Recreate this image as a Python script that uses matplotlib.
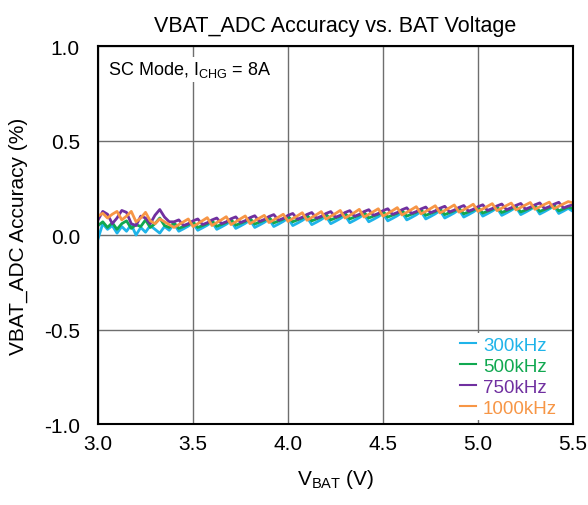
import numpy as np
import matplotlib
matplotlib.use("Agg")
import matplotlib.pyplot as plt

plt.rcParams['font.family'] = ['Liberation Sans', 'DejaVu Sans']
plt.rcParams['mathtext.fontset'] = 'custom'
plt.rcParams['mathtext.rm'] = 'Liberation Sans'
plt.rcParams['mathtext.it'] = 'Liberation Sans'

# battery voltage, 25 mV steps from 3.0 V to 5.5 V
vbat = np.linspace(3.0, 5.5, 101)

acc_300k = [-0.020, 0.060, 0.030, 0.050, 0.010, 0.045, 0.020, 0.055, 0.000, 0.040, 0.015, 0.050, 0.030, 0.010, 0.045, 0.025,
            0.060, 0.020, 0.033, 0.047, 0.065, 0.025, 0.038, 0.052, 0.070, 0.030, 0.043, 0.057, 0.075, 0.035, 0.048, 0.062,
            0.080, 0.040, 0.053, 0.067, 0.085, 0.045, 0.058, 0.072, 0.090, 0.050, 0.063, 0.077, 0.095, 0.055, 0.068, 0.082,
            0.100, 0.060, 0.073, 0.087, 0.105, 0.065, 0.078, 0.092, 0.110, 0.070, 0.083, 0.097, 0.115, 0.075, 0.088, 0.102,
            0.120, 0.080, 0.093, 0.107, 0.125, 0.085, 0.098, 0.112, 0.130, 0.090, 0.103, 0.117, 0.135, 0.095, 0.108, 0.122,
            0.140, 0.100, 0.113, 0.127, 0.144, 0.104, 0.117, 0.131, 0.148, 0.108, 0.121, 0.135, 0.151, 0.111, 0.124, 0.138,
            0.154, 0.114, 0.127, 0.141, 0.125]

acc_500k = [0.050, 0.070, 0.040, 0.065, 0.030, 0.060, 0.075, 0.035, 0.055, 0.045, 0.080, 0.040, 0.060, 0.090, 0.050, 0.040,
            0.065, 0.035, 0.045, 0.055, 0.070, 0.040, 0.050, 0.060, 0.076, 0.046, 0.056, 0.066, 0.082, 0.052, 0.062, 0.072,
            0.088, 0.058, 0.068, 0.078, 0.094, 0.064, 0.074, 0.084, 0.100, 0.070, 0.080, 0.090, 0.105, 0.075, 0.085, 0.095,
            0.110, 0.080, 0.090, 0.100, 0.115, 0.085, 0.095, 0.105, 0.120, 0.090, 0.100, 0.110, 0.125, 0.095, 0.105, 0.115,
            0.130, 0.100, 0.110, 0.120, 0.134, 0.104, 0.114, 0.124, 0.138, 0.108, 0.118, 0.128, 0.142, 0.112, 0.122, 0.132,
            0.146, 0.116, 0.126, 0.136, 0.149, 0.119, 0.129, 0.139, 0.152, 0.122, 0.132, 0.142, 0.155, 0.125, 0.135, 0.145,
            0.158, 0.128, 0.138, 0.148, 0.140]

acc_750k = [0.080, 0.125, 0.110, 0.060, 0.090, 0.130, 0.120, 0.060, 0.050, 0.100, 0.090, 0.060, 0.105, 0.135, 0.095, 0.070,
            0.070, 0.080, 0.050, 0.060, 0.075, 0.085, 0.055, 0.065, 0.080, 0.090, 0.060, 0.070, 0.086, 0.096, 0.066, 0.076,
            0.092, 0.102, 0.072, 0.082, 0.098, 0.108, 0.078, 0.088, 0.104, 0.114, 0.084, 0.094, 0.109, 0.119, 0.089, 0.099,
            0.114, 0.124, 0.094, 0.104, 0.119, 0.129, 0.099, 0.109, 0.124, 0.134, 0.104, 0.114, 0.129, 0.139, 0.109, 0.119,
            0.134, 0.144, 0.114, 0.124, 0.138, 0.148, 0.118, 0.128, 0.142, 0.152, 0.122, 0.132, 0.146, 0.156, 0.126, 0.136,
            0.150, 0.160, 0.130, 0.140, 0.154, 0.164, 0.134, 0.144, 0.157, 0.167, 0.137, 0.147, 0.160, 0.170, 0.140, 0.150,
            0.163, 0.173, 0.143, 0.153, 0.160]

acc_1000k = [0.100, 0.115, 0.090, 0.110, 0.125, 0.080, 0.100, 0.125, 0.070, 0.090, 0.120, 0.075, 0.060, 0.085, 0.070, 0.055,
             0.040, 0.055, 0.070, 0.085, 0.045, 0.060, 0.076, 0.092, 0.050, 0.066, 0.081, 0.097, 0.055, 0.070, 0.086, 0.101,
             0.060, 0.075, 0.090, 0.104, 0.066, 0.080, 0.095, 0.110, 0.072, 0.087, 0.102, 0.118, 0.078, 0.093, 0.108, 0.124,
             0.084, 0.099, 0.114, 0.130, 0.090, 0.104, 0.119, 0.136, 0.095, 0.109, 0.124, 0.139, 0.100, 0.114, 0.129, 0.145,
             0.106, 0.120, 0.135, 0.150, 0.112, 0.125, 0.140, 0.155, 0.117, 0.130, 0.144, 0.159, 0.121, 0.134, 0.148, 0.163,
             0.125, 0.138, 0.152, 0.166, 0.129, 0.142, 0.156, 0.169, 0.133, 0.146, 0.159, 0.172, 0.136, 0.149, 0.162, 0.174,
             0.139, 0.152, 0.165, 0.177, 0.170]

series = [("300kHz", acc_300k, "#1fb4e9"),
          ("500kHz", acc_500k, "#10a850"),
          ("750kHz", acc_750k, "#7030a0"),
          ("1000kHz", acc_1000k, "#f79646")]

x_ticks = [3.0, 3.5, 4.0, 4.5, 5.0, 5.5]
y_ticks = [-1.0, -0.5, 0.0, 0.5, 1.0]

fig = plt.figure(figsize=(5.88, 5.06), dpi=100)
ax = fig.add_axes([0.1667, 0.160, 0.8078, 0.7471])

for name, vals, col in series:
    ax.plot(vbat, vals, color=col, lw=2.0, label=name)

ax.set_xlim(3.0, 5.5)
ax.set_ylim(-1.0, 1.0)
ax.set_xticks(x_ticks)
ax.set_yticks(y_ticks)
ax.set_xticklabels(["%.1f" % v for v in x_ticks])
ax.set_yticklabels(["%.1f" % v for v in y_ticks])
ax.tick_params(length=0, labelsize=15)
ax.tick_params(axis="x", pad=7)
ax.tick_params(axis="y", pad=13)
ax.grid(True, color="#6e6e6e", lw=1)
ax.set_axisbelow(True)
for sp in ax.spines.values():
    sp.set_color("black")
    sp.set_linewidth(1.5)

ax.set_title("VBAT_ADC Accuracy vs. BAT Voltage", fontsize=15.5, pad=11)
ax.set_ylabel("VBAT_ADC Accuracy (%)", fontsize=15)
ax.yaxis.set_label_coords(-0.147, 0.5)
ax.set_xlabel(r"V$_{\mathrm{BAT}}$ (V)", fontsize=15, labelpad=10)

ax.text(0.02, 0.965, r"SC Mode, I$_{\mathrm{CHG}}$ = 8A", transform=ax.transAxes,
        fontsize=13, va="top", ha="left",
        bbox=dict(facecolor="white", edgecolor="none", pad=2))

leg = ax.legend(loc="lower right", frameon=True, fontsize=13.5, handlelength=0.9,
                handletextpad=0.35, labelspacing=0.2, borderaxespad=0.2,
                borderpad=0.2, bbox_to_anchor=(0.982, 0.0))
leg.get_frame().set_edgecolor("none")
leg.get_frame().set_facecolor("white")
leg.get_frame().set_alpha(1)
for txt, (_, _, col) in zip(leg.get_texts(), series):
    txt.set_color(col)
for ln in leg.get_lines():
    ln.set_linewidth(1.5)

fig.savefig("out.png", dpi=100)
